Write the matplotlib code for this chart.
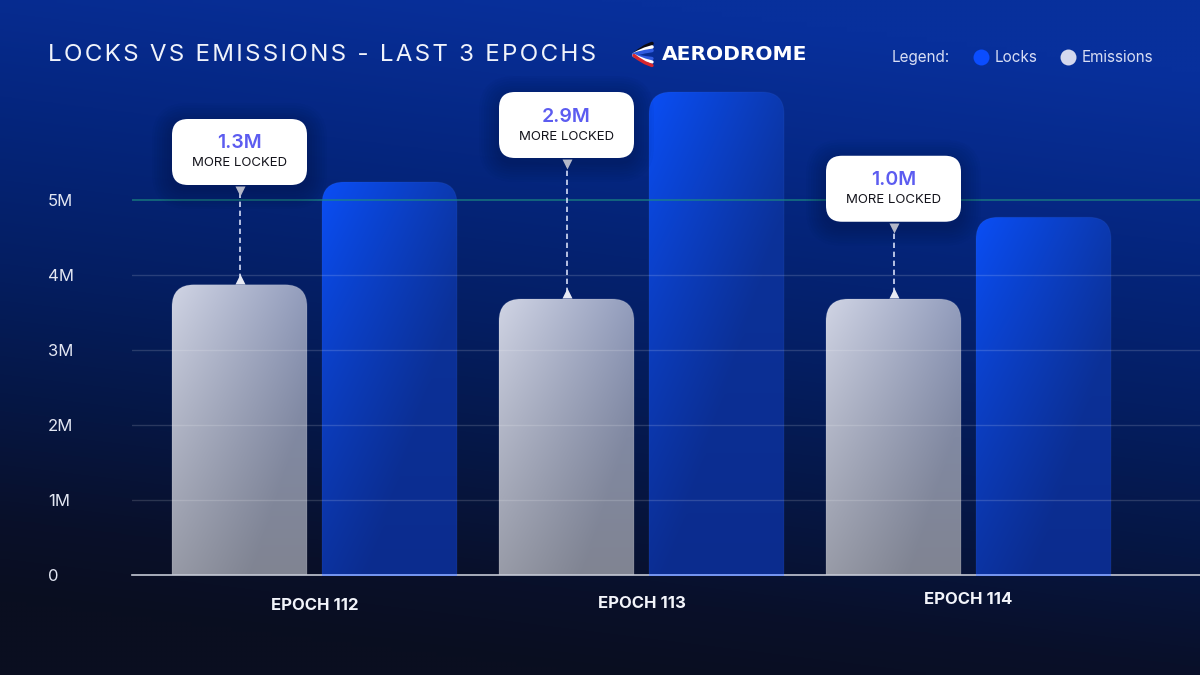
import numpy as np
import matplotlib
matplotlib.use('Agg')
import matplotlib.pyplot as plt
from matplotlib.lines import Line2D
from matplotlib.patches import FancyBboxPatch

plt.rcParams['font.family'] = ['Inter', 'DejaVu Sans']

# values in millions
epochs = ['EPOCH 112', 'EPOCH 113', 'EPOCH 114']
emissions = [3.87, 3.68, 3.68]
locks = [5.24, 6.44, 4.77]
more_locked = ['1.3M', '2.9M', '1.0M']
callout_bottom = [5.20, 5.56, 4.71]
yticks = [0, 1, 2, 3, 4, 5]
ytick_labels = ['0', '1M', '2M', '3M', '4M', '5M']

W, H = 1200, 675
PX_X = 327.0   # pixels per group
PX_Y = 75.0    # pixels per 1M
BAR_W = 135 / PX_X
BAR_OFF = 75 / PX_X
ASPECT = PX_X / PX_Y

fig = plt.figure(figsize=(12, 6.75), dpi=100)

# background gradient
bg = fig.add_axes([0, 0, 1, 1], zorder=0)
bg.set_axis_off()
yy, xx = np.mgrid[0:1:135j, 0:1:240j]
t = np.clip(yy - (xx - 0.5) * 0.22, 0, 1)
stops_t = [0.0, 0.25, 0.5, 0.72, 0.88, 1.0]
stops_c = np.array([[8, 48, 156], [5, 38, 128], [4, 30, 98], [6, 22, 66],
                    [9, 16, 42], [10, 14, 32]]) / 255
img = np.dstack([np.interp(t, stops_t, stops_c[:, i]) for i in range(3)])
bg.imshow(img, extent=[0, W, H, 0], aspect='auto', interpolation='bilinear')

ax = fig.add_axes([132 / W, 1 - 575 / H, (W - 132) / W, 575 / H], zorder=1)
ax.patch.set_alpha(0)
for s in ['top', 'right', 'left']:
    ax.spines[s].set_visible(False)
ax.spines['bottom'].set_color('#c4c8d4')
ax.spines['bottom'].set_linewidth(1.2)
ax.spines['bottom'].set_zorder(6)
ax.set_xticks([])
ax.set_yticks(yticks)
ax.set_yticklabels(ytick_labels, fontsize=12, color='#e2e6f2', ha='left')
ax.tick_params(axis='y', length=0, pad=60.5)


def gradient_bar(x, height, start, end, edge):
    # start/end are (top, bottom) colour pairs; colour runs off the top left corner
    patch = FancyBboxPatch((x - BAR_W / 2, -1), BAR_W, height + 1,
                           boxstyle='round,pad=0,rounding_size=%f' % (22 / PX_X),
                           mutation_aspect=ASPECT, fc='none', ec=edge, lw=0.8, zorder=2.1)
    ax.add_patch(patch)
    h_px = height * PX_Y
    v, u = np.mgrid[0:h_px:150j, 0:135:60j]
    d = np.clip((u * 1.3 + v * 0.42) / 225.0, 0, 1)[..., None]
    f = (v / h_px)[..., None]
    c0 = start[0] * (1 - f) + start[1] * f
    c1 = end[0] * (1 - f) + end[1] * f
    c = c0 * (1 - d) + c1 * d
    im = ax.imshow(c, extent=[x - BAR_W / 2, x + BAR_W / 2, 0, height],
                   origin='upper', aspect='auto', interpolation='bilinear', zorder=2)
    im.set_clip_path(patch)


emis_start = np.array([[208, 212, 228], [178, 180, 190]]) / 255
emis_end = np.array([[130, 142, 178], [128, 132, 146]]) / 255
lock_start = np.array([[10, 78, 245], [12, 66, 205]]) / 255
lock_end = np.array([[12, 52, 158], [11, 44, 142]]) / 255

for i in range(3):
    gradient_bar(i - BAR_OFF, emissions[i], emis_start, emis_end, (1, 1, 1, 0.12))
    gradient_bar(i + BAR_OFF, locks[i], lock_start, lock_end, (0.4, 0.6, 1, 0.08))

ax.set_xlim((132 - 314.5) / PX_X, (W - 314.5) / PX_X)
ax.set_ylim(0, 575 / PX_Y)

# gridlines sit over the bars
for v in yticks[1:]:
    if v == 5:
        ax.axhline(v, color='#1c8a80', lw=1.1, alpha=0.8, zorder=3)
    else:
        ax.axhline(v, color='#ffffff', lw=1, alpha=0.15, zorder=3)

# baseline turns light blue under the lock bars
for i in range(3):
    ax.plot([i + BAR_OFF - BAR_W / 2, i + BAR_OFF + BAR_W / 2], [0, 0], color='#6f92f5',
            lw=1.3, solid_capstyle='butt', clip_on=False, zorder=7)

# callouts
box_h = 66 / PX_Y
for i in range(3):
    x = i - BAR_OFF
    b = callout_bottom[i]
    for k in range(8):
        grow = (8 - k) * 2.5
        shadow = FancyBboxPatch((x - BAR_W / 2 - grow / PX_X, b - (grow + 4) / PX_Y),
                                BAR_W + 2 * grow / PX_X, box_h + 2 * grow / PX_Y,
                                boxstyle='round,pad=0,rounding_size=%f' % ((16 + grow) / PX_X),
                                mutation_aspect=ASPECT, fc='#020a2a', ec='none',
                                alpha=0.03, zorder=3.5)
        ax.add_patch(shadow)
    ax.add_patch(FancyBboxPatch((x - BAR_W / 2, b), BAR_W, box_h,
                                boxstyle='round,pad=0,rounding_size=%f' % (16 / PX_X),
                                mutation_aspect=ASPECT, fc='white', ec='none', zorder=5))
    ax.text(x, b + 41.5 / PX_Y, more_locked[i], ha='center', va='center', fontsize=14,
            fontweight='semibold', color='#5c5cf0', zorder=6)
    ax.text(x, b + 21.5 / PX_Y, 'MORE LOCKED', ha='center', va='center', fontsize=9.5,
            color='#14141c', zorder=6)
    ax.plot([x, x], [emissions[i] + 6 / PX_Y, b - 6 / PX_Y], color='#d4dcf6', lw=1.2,
            dashes=(3.2, 2.2), zorder=4)
    ax.plot([x], [b - 6 / PX_Y], marker='v', ms=6.5, color='#b4b8c8', mec='none', zorder=4)
    ax.plot([x], [emissions[i] + 6 / PX_Y], marker='^', ms=6.5, color='#e8eaf4', mec='none', zorder=4)

# x labels are not quite level in the original
label_drop = [31, 29, 25]
for i, name in enumerate(epochs):
    ax.annotate(name, xy=(i, 0), xytext=(0, -label_drop[i] * 0.72), textcoords='offset points',
                ha='center', va='center', fontsize=12, fontweight='bold',
                color='#f2f4fa', annotation_clip=False)

# header, in pixels
top = fig.add_axes([0, 0, 1, 1], zorder=2)
top.set_xlim(0, W)
top.set_ylim(H, 0)
top.set_axis_off()
top.patch.set_alpha(0)

title = 'LOCKS VS EMISSIONS - LAST 3 EPOCHS'
top.text(48, 55, '\u200a'.join(title), fontsize=17.4, color='#f0f3fb', va='center', ha='left')

# logo swoosh
swoosh_x = np.array([652, 645, 638, 634])
swoosh_y = np.array([1.0, 0.72, 0.3, 0.0])
for c, off in zip(['#0a0a14', '#ffffff', '#2f5be0'], [11, 7.5, 4]):
    top.plot(swoosh_x, 54.5 - swoosh_y * off, color=c, lw=2.6, solid_capstyle='round')
for c, off in zip(['#2f5be0', '#ffffff', '#d8262c'], [3, 6.5, 10]):
    top.plot(swoosh_x, 55.5 + swoosh_y * off, color=c, lw=2.4, solid_capstyle='round')
top.text(662, 55, 'AERODROME', fontsize=14.6, fontweight='black', color='white', va='center', ha='left',
         family=['DejaVu Sans'])

top.text(892, 57.5, 'Legend:', fontsize=11, color='#d8def4', va='center', ha='left')
handles = [Line2D([], [], ls='none', marker='o', ms=11.5, mfc='#0b4dff', mec='none'),
           Line2D([], [], ls='none', marker='o', ms=11.5, mfc='#d4d8ee', mec='none')]
top.legend(handles, ['Locks', 'Emissions'], ncol=2, frameon=False, fontsize=11,
           labelcolor='#d8def4', loc='center left', bbox_to_anchor=(970 / W, 1 - 57.5 / H),
           handletextpad=0.2, columnspacing=1.3, handlelength=1.4, borderpad=0, borderaxespad=0)

fig.savefig('out.png', dpi=100)
